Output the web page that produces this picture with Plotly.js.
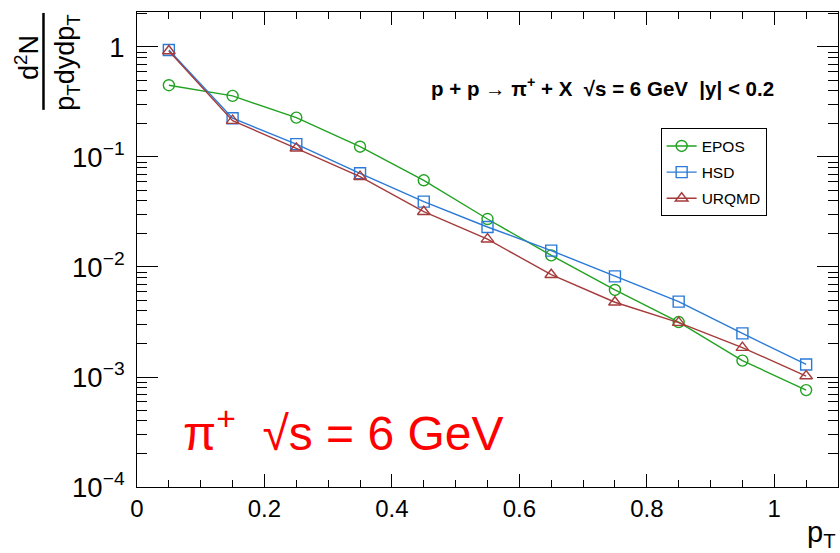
<!DOCTYPE html>
<html>
<head>
<meta charset="utf-8">
<script src="https://cdn.plot.ly/plotly-3.0.1.min.js"></script>
<style>html,body{margin:0;padding:0;background:#fff;}#chart{width:840px;height:553px;}</style>
</head>
<body>
<div id="chart"></div>
<script>
// Data
var pt = [0.05, 0.15, 0.25, 0.35, 0.45, 0.55, 0.65, 0.75, 0.85, 0.95, 1.05];
var epos = [0.449, 0.359, 0.228, 0.124, 0.0614, 0.0273, 0.01276, 0.00618, 0.00316, 0.00141, 0.00076];
var hsd = [0.94, 0.225, 0.131, 0.0711, 0.0393, 0.0231, 0.0141, 0.00822, 0.00484, 0.00249, 0.00130];
var urqmd = [0.92, 0.214, 0.120, 0.0662, 0.0318, 0.0179, 0.00851, 0.00478, 0.00312, 0.00185, 0.00102];
var seriesNames = ["EPOS", "HSD", "URQMD"];

var FONT = "Liberation Sans, Arial, Helvetica, sans-serif";
var colors = ["#22a222", "#2b7ad6", "#a53b3b"];
var symbols = ["circle-open", "square-open", "triangle-up-open"];
var values = [epos, hsd, urqmd];

var traces = values.map(function (v, i) {
  return {
    x: pt, y: v, name: seriesNames[i], type: "scatter", mode: "lines+markers",
    legendgroup: "g" + i,
    line: {color: colors[i], width: 1.4},
    marker: {symbol: symbols[i], size: 11, color: colors[i], line: {color: colors[i], width: 1.4}}
  };
});

var layout = {
  width: 840, height: 553,
  margin: {l: 137, r: 2, t: 12, b: 66},
  paper_bgcolor: "#fff", plot_bgcolor: "#fff",
  font: {family: FONT, color: "#000"},
  showlegend: true,
  legend: {
    x: 0.747, y: 0.755, xanchor: "left", yanchor: "top",
    bgcolor: "#fff", bordercolor: "#000", borderwidth: 1,
    font: {family: FONT, size: 15.5, color: "#000"},
    tracegroupgap: 3, itemwidth: 30
  },
  xaxis: {
    range: [0, 1.1], tick0: 0, dtick: 0.2,
    showgrid: false, zeroline: false,
    showline: true, linecolor: "#000", linewidth: 1, mirror: "allticks",
    ticks: "inside", ticklen: 13, tickcolor: "#000", tickwidth: 1,
    minor: {dtick: 0.05, ticks: "inside", ticklen: 7, tickcolor: "#000", tickwidth: 1, showgrid: false},
    tickfont: {family: FONT, size: 24, color: "#000"},
    ticklabelstandoff: 0
  },
  yaxis: {
    type: "log", range: [-4, 0.318], dtick: 1,
    exponentformat: "power",
    showgrid: false, zeroline: false,
    showline: true, linecolor: "#000", linewidth: 1, mirror: "allticks",
    ticks: "inside", ticklen: 21, tickcolor: "#000", tickwidth: 1,
    minor: {dtick: "D1", ticks: "inside", ticklen: 10, tickcolor: "#000", tickwidth: 1, showgrid: false},
    tickfont: {family: FONT, size: 22, color: "#000"},
    ticklabelstandoff: 7
  },
  annotations: [
    {text: "<b>p + p → π<sup>+</sup> + X  √s = 6 GeV  |y| < 0.2</b>", xref: "paper", yref: "paper",
     x: 0.664, y: 0.843, xanchor: "center", yanchor: "middle", showarrow: false,
     font: {family: FONT, size: 20.5, color: "#000"}},
    {text: "π<sup>+</sup>  √s = 6 GeV", xref: "paper", yref: "paper",
     x: 0.063, y: 0.12, xanchor: "left", yanchor: "middle", showarrow: false,
     font: {family: FONT, size: 48, color: "#ff0000"}},
    {text: "d<sup>2</sup>N", xref: "paper", yref: "paper",
     x: -0.157, y: 0.905, xanchor: "center", yanchor: "middle", showarrow: false, textangle: -90,
     font: {family: FONT, size: 27, color: "#000"}},
    {text: "p<sub>T</sub>dydp<sub>T</sub>", xref: "paper", yref: "paper",
     x: -0.1, y: 0.895, xanchor: "center", yanchor: "middle", showarrow: false, textangle: -90,
     font: {family: FONT, size: 27, color: "#000"}},
    {text: "p<sub>T</sub>", xref: "paper", yref: "paper",
     x: 1.0, y: -0.098, xanchor: "right", yanchor: "middle", showarrow: false,
     font: {family: FONT, size: 29, color: "#000"}}
  ],
  shapes: [
    {type: "line", xref: "paper", yref: "paper", x0: -0.1334, x1: -0.1334, y0: 0.998, y1: 0.794,
     line: {color: "#000", width: 2.5}}
  ]
};

Plotly.newPlot("chart", traces, layout, {displayModeBar: false, staticPlot: true});
</script>
</body>
</html>
